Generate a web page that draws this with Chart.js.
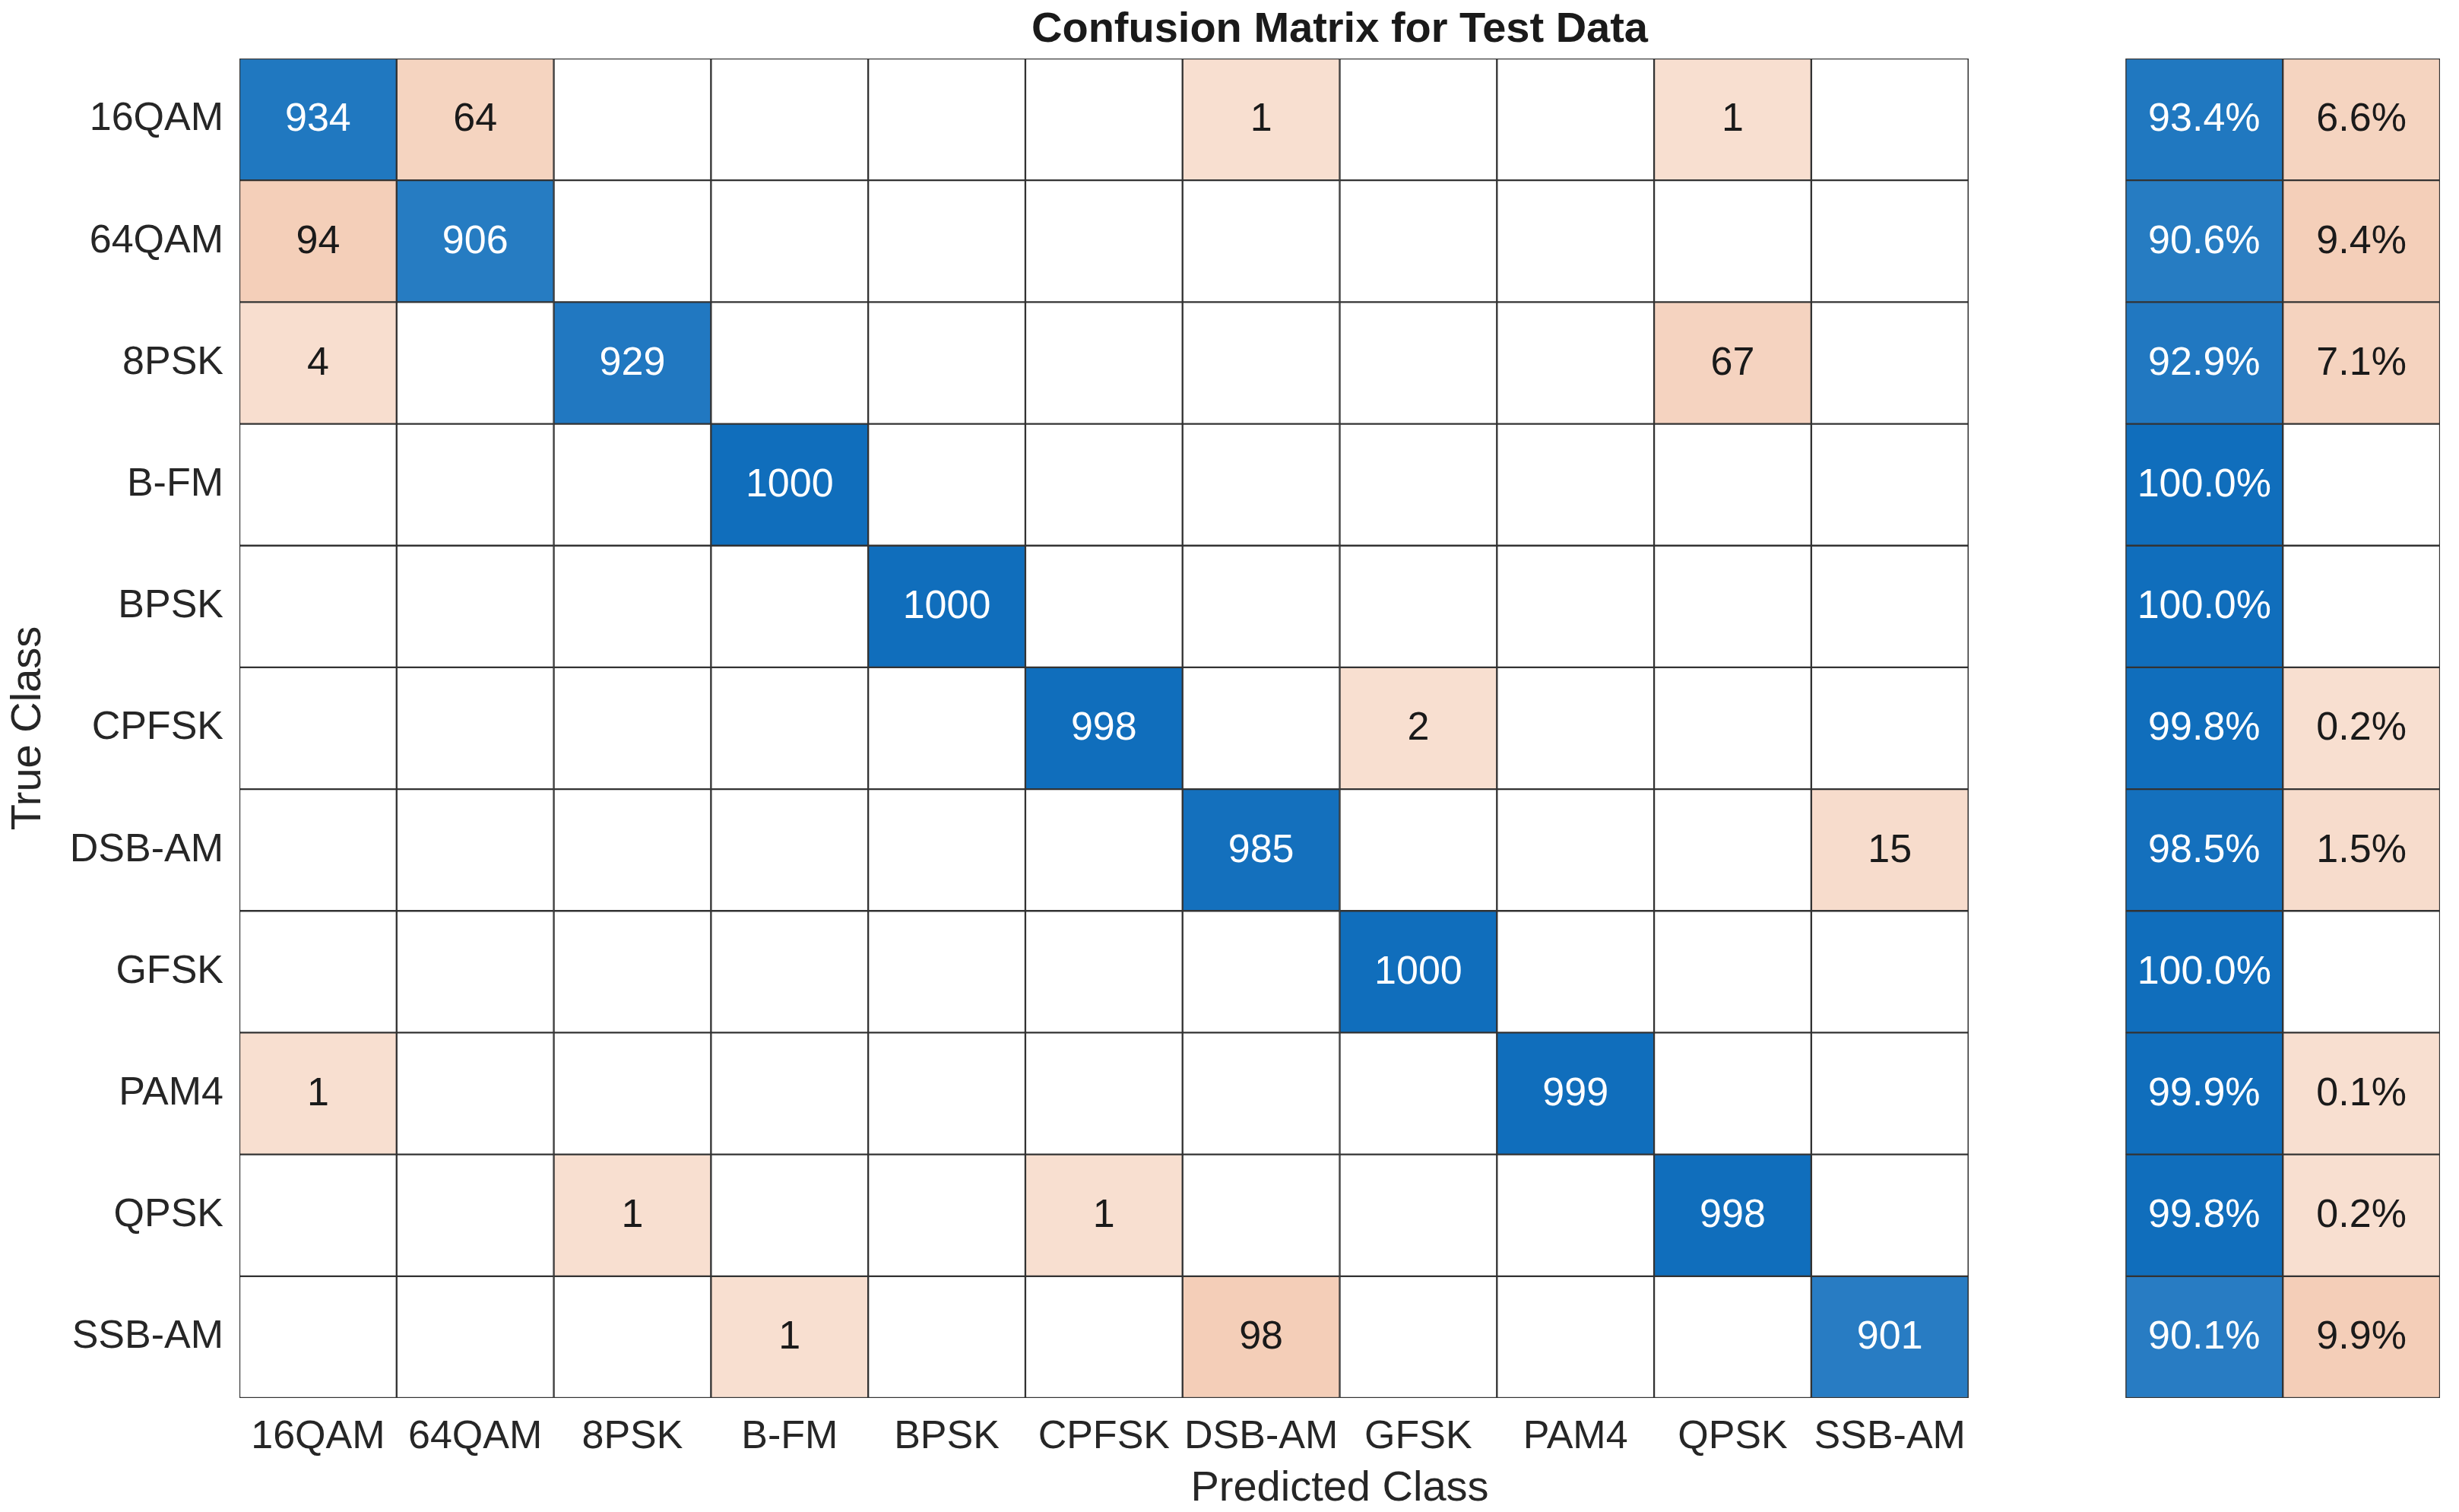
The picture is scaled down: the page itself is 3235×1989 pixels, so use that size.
<!DOCTYPE html>
<html><head><meta charset="utf-8">
<script src="https://cdn.jsdelivr.net/npm/chart.js@4.4.1/dist/chart.umd.min.js"></script>
<style>html,body{margin:0;padding:0;background:#fff;}canvas{display:block;}</style>
</head><body>
<canvas id="c" width="3235" height="1989" style="width:3235px;height:1989px"></canvas>
<script>
// ---- data ----
const classNames = ['16QAM','64QAM','8PSK','B-FM','BPSK','CPFSK','DSB-AM','GFSK','PAM4','QPSK','SSB-AM'];
const row16QAM = [934, 64,   0,    0,    0,    0,   1,    0,    0,   1,   0];
const row64QAM = [ 94, 906,  0,    0,    0,    0,   0,    0,    0,   0,   0];
const row8PSK  = [  4,  0, 929,    0,    0,    0,   0,    0,    0,  67,   0];
const rowBFM   = [  0,  0,   0, 1000,    0,    0,   0,    0,    0,   0,   0];
const rowBPSK  = [  0,  0,   0,    0, 1000,    0,   0,    0,    0,   0,   0];
const rowCPFSK = [  0,  0,   0,    0,    0,  998,   0,    2,    0,   0,   0];
const rowDSBAM = [  0,  0,   0,    0,    0,    0, 985,    0,    0,   0,  15];
const rowGFSK  = [  0,  0,   0,    0,    0,    0,   0, 1000,    0,   0,   0];
const rowPAM4  = [  1,  0,   0,    0,    0,    0,   0,    0,  999,   0,   0];
const rowQPSK  = [  0,  0,   1,    0,    0,    1,   0,    0,    0, 998,   0];
const rowSSBAM = [  0,  0,   0,    1,    0,    0,  98,    0,    0,   0, 901];
const counts = [row16QAM,row64QAM,row8PSK,rowBFM,rowBPSK,rowCPFSK,rowDSBAM,rowGFSK,rowPAM4,rowQPSK,rowSSBAM];
const correctPct = [93.4, 90.6, 92.9, 100.0, 100.0, 99.8, 98.5, 100.0, 99.9, 99.8, 90.1];
const errorPct   = [ 6.6,  9.4,  7.1,   0,     0,    0.2,  1.5,   0,    0.1,  0.2,  9.9];
const xLabels = [...classNames, 'gap', 'correct', 'error'];

// ---- colours ----
const N = classNames.length;
const GAP = N, COL_OK = N + 1, COL_ERR = N + 2;
function mix(base, f){ return 'rgb(' + base.map(b => Math.round(255 + f*(b-255))).join(',') + ')'; }
function lerp(a, b, t){ return 'rgb(' + a.map((v,i) => Math.round(v + t*(b[i]-v))).join(',') + ')'; }
const BLUE = [16,110,188];
const PEACH_LO = [248,223,208], PEACH_HI = [244,206,184];
const maxDiag = Math.max(...counts.map((r,i)=>r[i]));
let maxOff = 0; counts.forEach((r,i)=>r.forEach((v,j)=>{ if(i!==j) maxOff=Math.max(maxOff,v); }));
const maxErr = Math.max(...errorPct);
function blueOf(v, max){ return mix(BLUE, v/max); }
function peachOf(v, max){ return lerp(PEACH_LO, PEACH_HI, v/max); }
function cellInfo(r, c){
  if (c < N){
    const v = counts[r][c];
    if (v === 0) return {bg:'#ffffff', text:'', white:false};
    if (r === c) return {bg: blueOf(v, maxDiag), text: String(v), white:true};
    return {bg: peachOf(v, maxOff), text:String(v), white:false};
  }
  if (c === COL_OK){
    const p = correctPct[r];
    return p > 0 ? {bg: blueOf(p, 100), text: p.toFixed(1)+'%', white:true} : {bg:'#fff', text:'', white:false};
  }
  if (c === COL_ERR){
    const p = errorPct[r];
    return p > 0 ? {bg: peachOf(p, maxErr), text: p.toFixed(1)+'%', white:false} : {bg:'#fff', text:'', white:false};
  }
  return null;
}

const datasets = classNames.map((name, r) => ({
  label: name,
  data: xLabels.map((_, c) => c === GAP ? null : [r, r+1]),
  backgroundColor: xLabels.map((_, c) => { const ci = cellInfo(r,c); return ci ? ci.bg : 'rgba(0,0,0,0)'; }),
  borderColor: '#333333',
  borderWidth: 1.5,
  borderSkipped: false,
  grouped: false,
  barPercentage: 1,
  categoryPercentage: 1,
}));

const FONT = '"Liberation Sans", Arial, Helvetica, sans-serif';
const TXT = '#262626';

const cellText = {
  id: 'cellText',
  afterDatasetsDraw(chart){
    const ctx = chart.ctx;
    ctx.save();
    ctx.font = '52px ' + FONT;
    ctx.textAlign = 'center';
    ctx.textBaseline = 'middle';
    chart.data.datasets.forEach((ds, r) => {
      const meta = chart.getDatasetMeta(r);
      meta.data.forEach((el, c) => {
        const ci = cellInfo(r, c);
        if (!ci || !ci.text) return;
        const p = el.getProps(['x','y','base'], true);
        ctx.fillStyle = ci.white ? '#ffffff' : '#1a1a1a';
        ctx.fillText(ci.text, p.x, (p.y + p.base)/2 + 1);
      });
    });
    ctx.restore();
  }
};

new Chart(document.getElementById('c'), {
  type: 'bar',
  data: { labels: xLabels, datasets },
  options: {
    responsive: false,
    devicePixelRatio: 1,
    animation: false,
    layout: { padding: { left: 0, right: 25, top: 0, bottom: 0 } },
    plugins: {
      legend: { display: false },
      tooltip: { enabled: false },
      title: {
        display: true,
        text: 'Confusion Matrix for Test Data',
        fullSize: false,
        color: '#1a1a1a',
        font: { family: FONT, size: 56, weight: 'bold', lineHeight: 1 },
        padding: { top: 12, bottom: 9 }
      }
    },
    scales: {
      x: {
        type: 'category',
        offset: true,
        grid: { display: false, drawTicks: false },
        border: { display: false },
        ticks: {
          autoSkip: false, maxRotation: 0, minRotation: 0,
          padding: 26, color: TXT,
          font: { family: FONT, size: 52, lineHeight: 1 },
          callback: (v, i) => i < N ? classNames[i] : ''
        },
        title: {
          display: true, text: 'Predicted Class', color: TXT,
          font: { family: FONT, size: 56, lineHeight: 1 },
          padding: { top: 0, bottom: 2 }
        },
        afterFit: (s) => { s.height = 150; }
      },
      y: {
        type: 'linear', min: 0, max: N, reverse: true,
        grid: { display: false, drawTicks: false },
        border: { display: false },
        afterBuildTicks: (s) => { s.ticks = classNames.map((_, i) => ({ value: i + 0.5 })); },
        ticks: {
          padding: 21, color: TXT,
          font: { family: FONT, size: 52, lineHeight: 1 },
          callback: (v, i) => classNames[i]
        },
        title: {
          display: true, text: 'True Class', color: TXT,
          font: { family: FONT, size: 56, lineHeight: 1.2 },
          padding: { top: 4, bottom: 4 }
        },
        afterFit: (s) => { s.width = 315; }
      }
    }
  },
  plugins: [cellText]
});
</script>
</body></html>
